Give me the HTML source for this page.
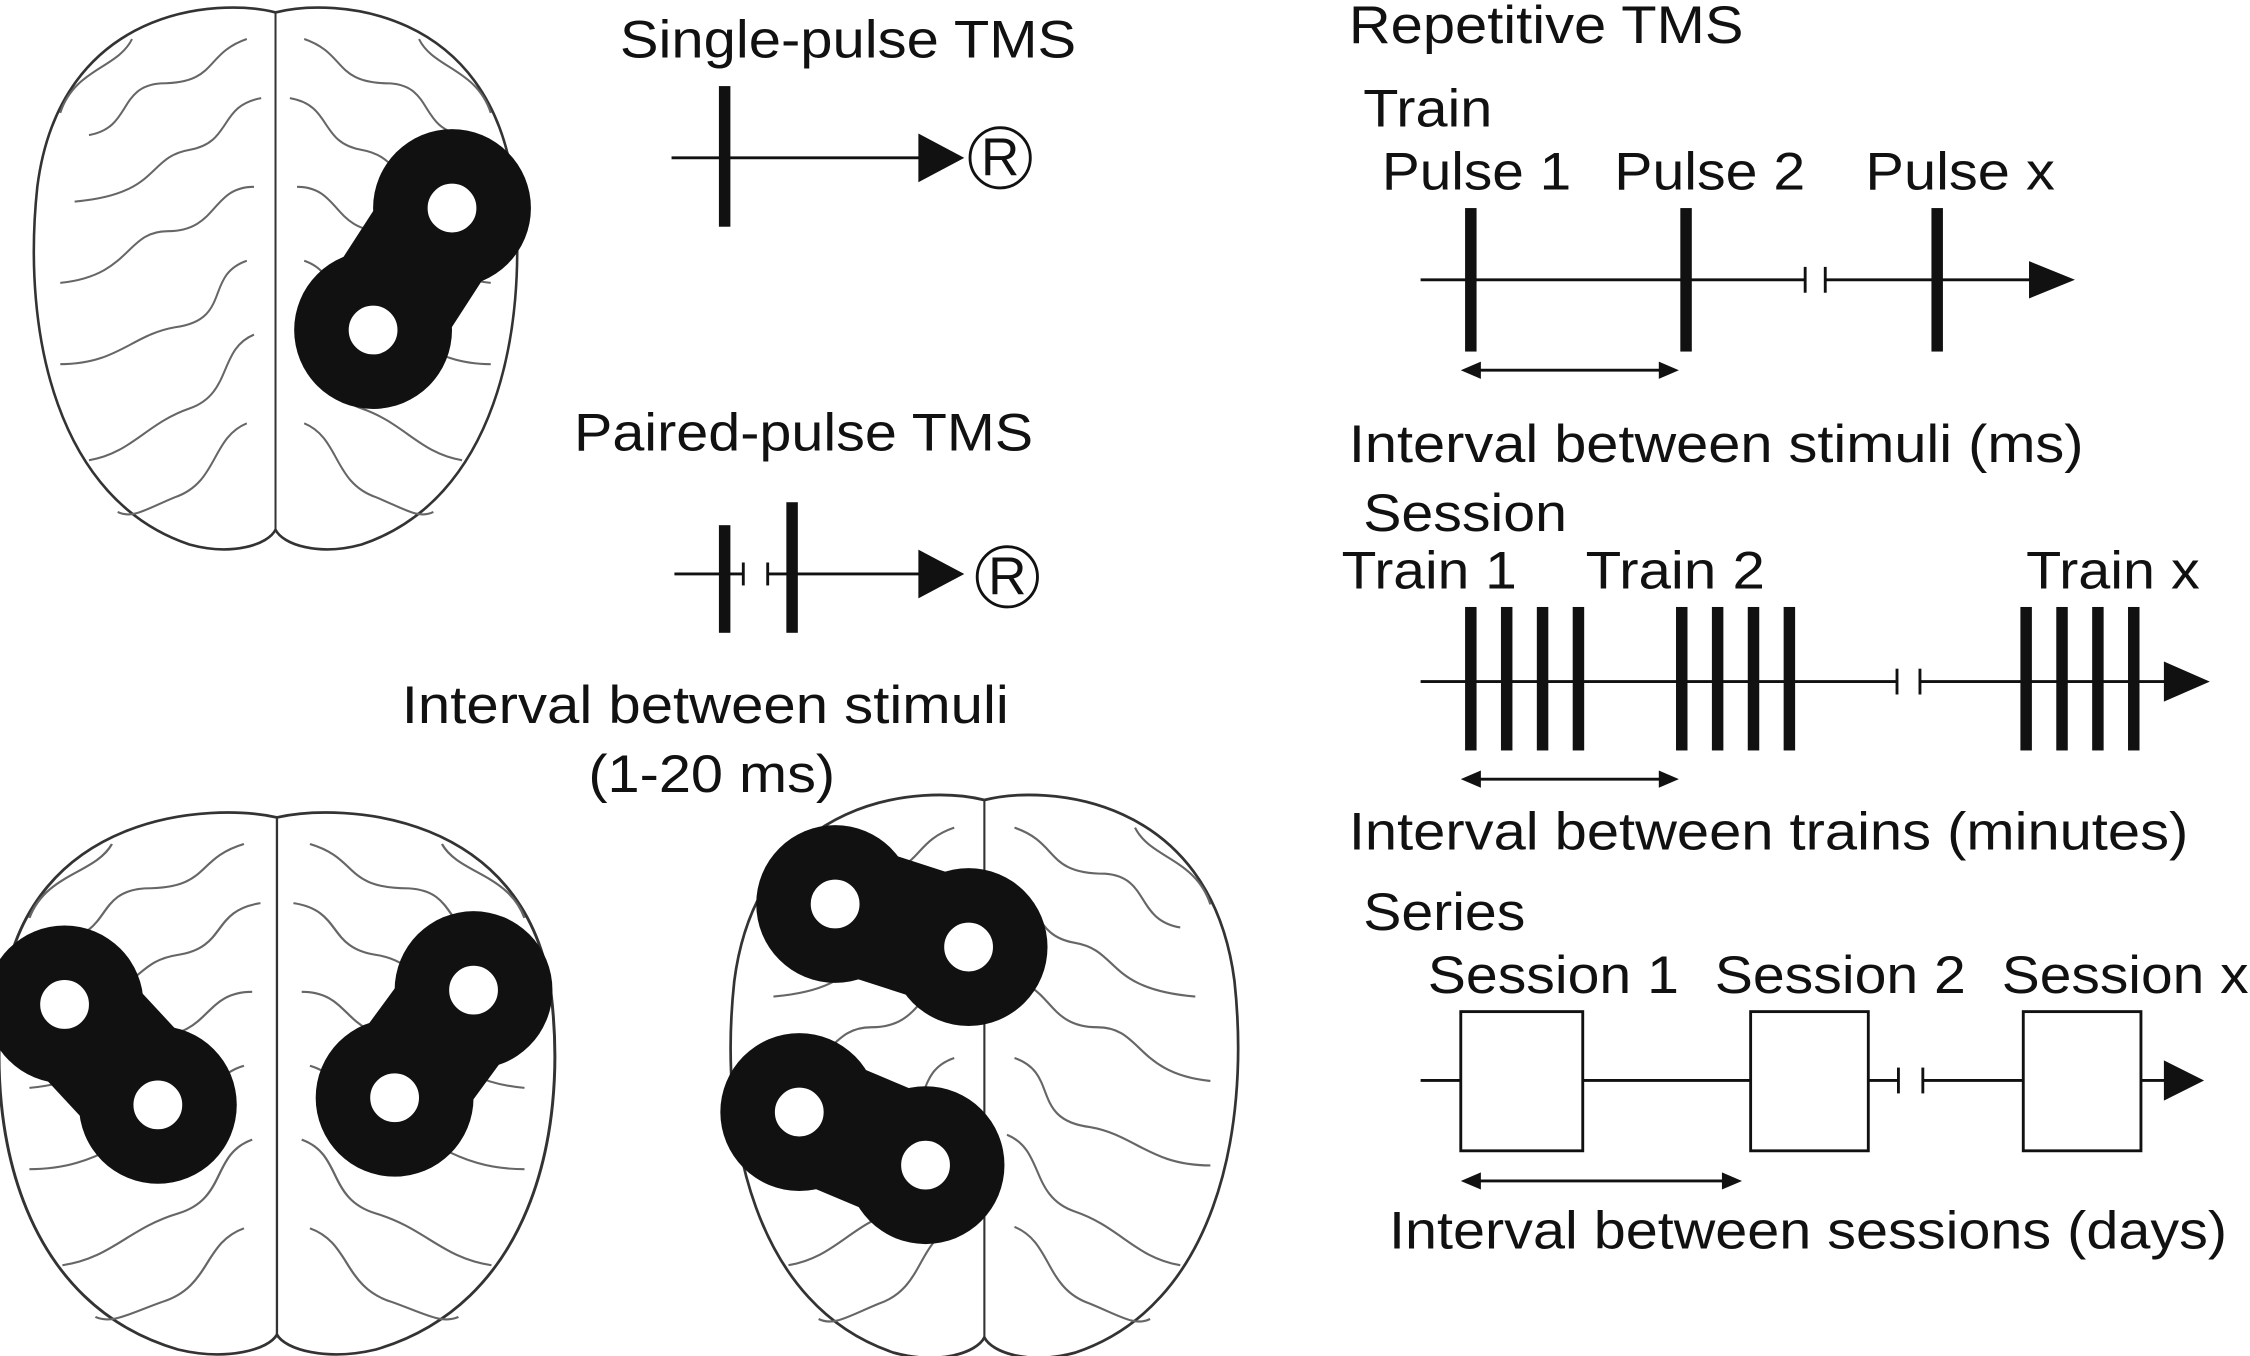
<!DOCTYPE html>
<html><head><meta charset="utf-8"><style>
html,body{margin:0;padding:0;background:#fff;}
svg{display:block;}
text{font-family:"Liberation Sans",Arial,sans-serif;font-size:37px;fill:#111;}
</style></head><body>
<svg width="2250" height="1356" viewBox="0 0 1568 945" preserveAspectRatio="none" xmlns="http://www.w3.org/2000/svg">
<defs>
<g id="brain" fill="none" stroke="#666" stroke-width="1.4">
<path d="M0,-178 C-40,-188 -150,-182 -166,-60 C-177,40 -152,152 -60,182 C-30,190 -5,182 0,172 C5,182 30,190 60,182 C152,152 177,40 166,-60 C150,-182 40,-188 0,-178 Z" stroke="#333" stroke-width="1.8"/>
<path d="M0,-178 L0,172" stroke="#333"/>
<path d="M-20,-160 C-50,-150 -40,-130 -80,-130 C-110,-128 -100,-100 -130,-95"/>
<path d="M-10,-120 C-40,-115 -30,-90 -60,-85 C-90,-80 -80,-55 -140,-50"/>
<path d="M-15,-60 C-45,-60 -40,-30 -75,-30 C-105,-30 -100,0 -150,5"/>
<path d="M-20,-10 C-50,0 -30,30 -70,35 C-100,40 -110,60 -150,60"/>
<path d="M-15,40 C-40,50 -30,80 -60,90 C-90,100 -100,120 -130,125"/>
<path d="M-20,100 C-45,110 -40,140 -70,150 C-90,158 -100,165 -110,160"/>
<path d="M-100,-160 C-110,-140 -140,-140 -150,-110"/>
<path d="M20,-160 C50,-150 40,-130 80,-130 C110,-128 100,-100 130,-95"/>
<path d="M10,-120 C40,-115 30,-90 60,-85 C90,-80 80,-55 140,-50"/>
<path d="M15,-60 C45,-60 40,-30 75,-30 C105,-30 100,0 150,5"/>
<path d="M20,-10 C50,0 30,30 70,35 C100,40 110,60 150,60"/>
<path d="M15,40 C40,50 30,80 60,90 C90,100 100,120 130,125"/>
<path d="M20,100 C45,110 40,140 70,150 C90,158 100,165 110,160"/>
<path d="M100,-160 C110,-140 140,-140 150,-110"/>
</g>
<g id="ring"><circle r="55" fill="#111"/><circle r="18" fill="#fff" stroke="#111" stroke-width="2"/></g>
</defs>

<use href="#brain" transform="translate(192,192) scale(1,1.03)"/>
<use href="#brain" transform="translate(193,753) scale(1.15,1.03)"/>
<use href="#brain" transform="translate(686,748) scale(1.05,1.07)"/>

<g><line x1="315" y1="145" x2="260" y2="230" stroke="#111" stroke-width="90"/>
<use href="#ring" x="315" y="145"/><use href="#ring" x="260" y="230"/></g>
<g><line x1="45" y1="700" x2="110" y2="770" stroke="#111" stroke-width="90"/>
<use href="#ring" x="45" y="700"/><use href="#ring" x="110" y="770"/></g>
<g><line x1="330" y1="690" x2="275" y2="765" stroke="#111" stroke-width="90"/>
<use href="#ring" x="330" y="690"/><use href="#ring" x="275" y="765"/></g>
<g><line x1="582" y1="630" x2="675" y2="660" stroke="#111" stroke-width="90"/>
<use href="#ring" x="582" y="630"/><use href="#ring" x="675" y="660"/></g>
<g><line x1="557" y1="775" x2="645" y2="812" stroke="#111" stroke-width="90"/>
<use href="#ring" x="557" y="775"/><use href="#ring" x="645" y="812"/></g>

<text x="432" y="40" textLength="318" lengthAdjust="spacingAndGlyphs">Single-pulse TMS</text>
<line x1="468" y1="110" x2="645" y2="110" stroke="#111" stroke-width="2"/>
<rect x="501" y="60" width="8" height="98" fill="#111"/>
<polygon points="640,93 672,110 640,127" fill="#111"/>
<circle cx="697" cy="110" r="21" fill="#fff" stroke="#111" stroke-width="2"/>
<text x="697" y="122" text-anchor="middle" font-size="32">R</text>

<text x="400" y="314" textLength="320" lengthAdjust="spacingAndGlyphs">Paired-pulse TMS</text>
<line x1="470" y1="400" x2="518" y2="400" stroke="#111" stroke-width="2"/>
<line x1="535" y1="400" x2="645" y2="400" stroke="#111" stroke-width="2"/>
<line x1="518" y1="392" x2="518" y2="408" stroke="#111" stroke-width="2"/>
<line x1="535" y1="392" x2="535" y2="408" stroke="#111" stroke-width="2"/>
<rect x="501" y="366" width="8" height="75" fill="#111"/>
<rect x="548" y="350" width="8" height="91" fill="#111"/>
<polygon points="640,383 672,400 640,417" fill="#111"/>
<circle cx="702" cy="402" r="21" fill="#fff" stroke="#111" stroke-width="2"/>
<text x="702" y="414" text-anchor="middle" font-size="32">R</text>
<text x="280" y="504" textLength="423" lengthAdjust="spacingAndGlyphs">Interval between stimuli</text>
<text x="410" y="552" textLength="172" lengthAdjust="spacingAndGlyphs">(1-20 ms)</text>

<text x="940" y="30" textLength="275" lengthAdjust="spacingAndGlyphs">Repetitive TMS</text>
<text x="950" y="88" textLength="90" lengthAdjust="spacingAndGlyphs">Train</text>
<text x="963" y="132" textLength="132" lengthAdjust="spacingAndGlyphs">Pulse 1</text>
<text x="1125" y="132" textLength="133" lengthAdjust="spacingAndGlyphs">Pulse 2</text>
<text x="1300" y="132" textLength="132" lengthAdjust="spacingAndGlyphs">Pulse x</text>
<line x1="990" y1="195" x2="1258" y2="195" stroke="#111" stroke-width="2"/>
<line x1="1272" y1="195" x2="1418" y2="195" stroke="#111" stroke-width="2"/>
<line x1="1258" y1="186" x2="1258" y2="204" stroke="#111" stroke-width="2"/>
<line x1="1272" y1="186" x2="1272" y2="204" stroke="#111" stroke-width="2"/>
<rect x="1021" y="145" width="8" height="100" fill="#111"/>
<rect x="1171" y="145" width="8" height="100" fill="#111"/>
<rect x="1346" y="145" width="8" height="100" fill="#111"/>
<polygon points="1414,182 1446,195 1414,208" fill="#111"/>
<line x1="1025" y1="258" x2="1163" y2="258" stroke="#111" stroke-width="2"/>
<polygon points="1018,258 1032,252 1032,264" fill="#111"/>
<polygon points="1170,258 1156,252 1156,264" fill="#111"/>
<text x="940" y="322" textLength="512" lengthAdjust="spacingAndGlyphs">Interval between stimuli (ms)</text>

<text x="950" y="370" textLength="142" lengthAdjust="spacingAndGlyphs">Session</text>
<text x="935" y="410" textLength="122" lengthAdjust="spacingAndGlyphs">Train 1</text>
<text x="1105" y="410" textLength="125" lengthAdjust="spacingAndGlyphs">Train 2</text>
<text x="1412" y="410" textLength="121" lengthAdjust="spacingAndGlyphs">Train x</text>
<line x1="990" y1="475" x2="1322" y2="475" stroke="#111" stroke-width="2"/>
<line x1="1338" y1="475" x2="1512" y2="475" stroke="#111" stroke-width="2"/>
<line x1="1322" y1="466" x2="1322" y2="484" stroke="#111" stroke-width="2"/>
<line x1="1338" y1="466" x2="1338" y2="484" stroke="#111" stroke-width="2"/>
<g fill="#111">
<rect x="1021" y="423" width="8" height="100"/><rect x="1046" y="423" width="8" height="100"/><rect x="1071" y="423" width="8" height="100"/><rect x="1096" y="423" width="8" height="100"/>
<rect x="1168" y="423" width="8" height="100"/><rect x="1193" y="423" width="8" height="100"/><rect x="1218" y="423" width="8" height="100"/><rect x="1243" y="423" width="8" height="100"/>
<rect x="1408" y="423" width="8" height="100"/><rect x="1433" y="423" width="8" height="100"/><rect x="1458" y="423" width="8" height="100"/><rect x="1483" y="423" width="8" height="100"/>
<polygon points="1508,461 1540,475 1508,489"/>
</g>
<line x1="1025" y1="543" x2="1163" y2="543" stroke="#111" stroke-width="2"/>
<polygon points="1018,543 1032,537 1032,549" fill="#111"/>
<polygon points="1170,543 1156,537 1156,549" fill="#111"/>
<text x="940" y="592" textLength="585" lengthAdjust="spacingAndGlyphs">Interval between trains (minutes)</text>

<text x="950" y="648" textLength="113" lengthAdjust="spacingAndGlyphs">Series</text>
<text x="995" y="692" textLength="175" lengthAdjust="spacingAndGlyphs">Session 1</text>
<text x="1195" y="692" textLength="175" lengthAdjust="spacingAndGlyphs">Session 2</text>
<text x="1395" y="692" textLength="172" lengthAdjust="spacingAndGlyphs">Session x</text>
<line x1="990" y1="753" x2="1323" y2="753" stroke="#111" stroke-width="2"/>
<line x1="1340" y1="753" x2="1512" y2="753" stroke="#111" stroke-width="2"/>
<line x1="1323" y1="744" x2="1323" y2="762" stroke="#111" stroke-width="2"/>
<line x1="1340" y1="744" x2="1340" y2="762" stroke="#111" stroke-width="2"/>
<rect x="1018" y="705" width="85" height="97" fill="#fff" stroke="#111" stroke-width="2"/>
<rect x="1220" y="705" width="82" height="97" fill="#fff" stroke="#111" stroke-width="2"/>
<rect x="1410" y="705" width="82" height="97" fill="#fff" stroke="#111" stroke-width="2"/>
<polygon points="1508,739 1536,753 1508,767" fill="#111"/>
<line x1="1025" y1="823" x2="1207" y2="823" stroke="#111" stroke-width="2"/>
<polygon points="1018,823 1032,817 1032,829" fill="#111"/>
<polygon points="1214,823 1200,817 1200,829" fill="#111"/>
<text x="968" y="870" textLength="584" lengthAdjust="spacingAndGlyphs">Interval between sessions (days)</text>
</svg>
</body></html>
